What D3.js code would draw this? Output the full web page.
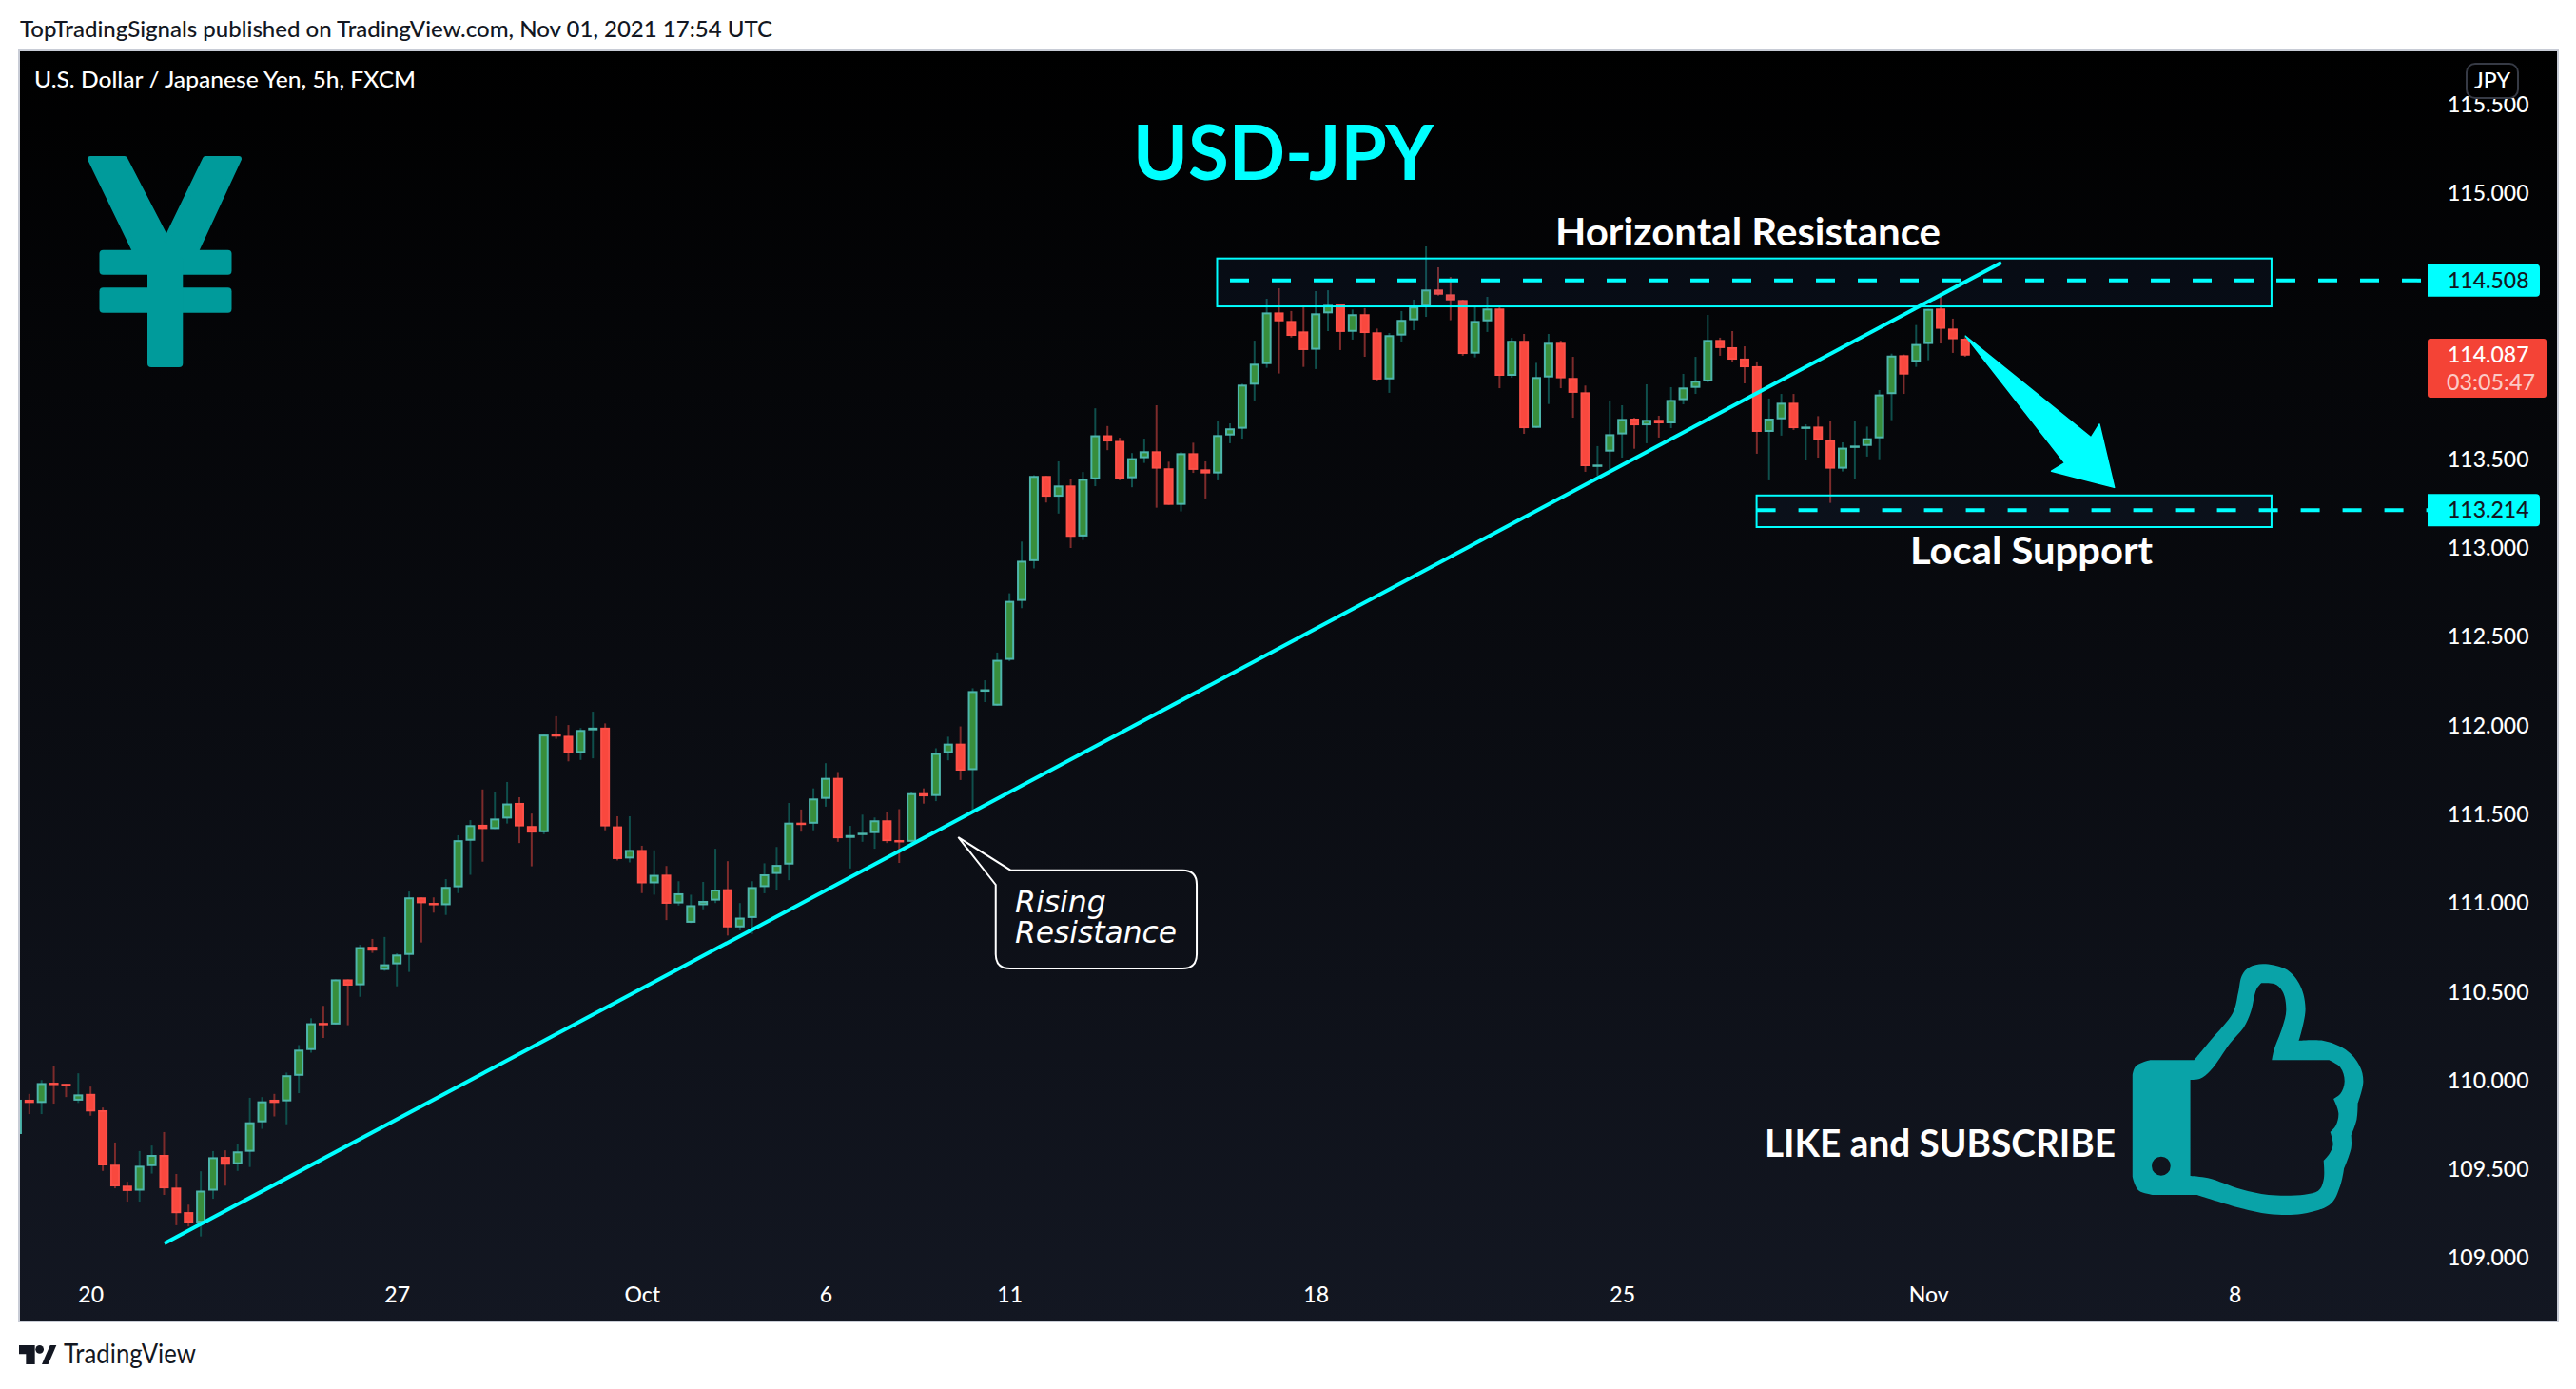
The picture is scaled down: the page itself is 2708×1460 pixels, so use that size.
<!DOCTYPE html>
<html><head><meta charset="utf-8">
<script src="https://cdn.jsdelivr.net/npm/d3@7"></script>
<style>html,body{margin:0;padding:0;background:#fff}svg{display:block}</style>
</head><body><svg id="c" width="2708" height="1460"></svg>
<script>
const opens=[109.700,109.893,109.875,109.989,109.983,109.888,109.926,109.834,109.527,109.409,
109.381,109.519,109.582,109.398,109.260,109.201,109.381,109.571,109.530,109.600,
109.766,109.893,109.884,110.028,110.173,110.326,110.317,110.571,110.538,110.755,
110.624,110.656,110.709,111.033,111.002,110.989,111.090,111.352,111.442,111.418,
111.477,111.565,111.435,111.400,111.952,111.943,111.847,111.974,111.989,111.433,
111.252,111.300,111.112,111.161,110.999,110.890,110.989,111.015,111.079,110.864,
110.917,111.091,111.165,111.218,111.454,111.448,111.588,111.706,111.368,111.384,
111.395,111.467,111.356,111.346,111.620,111.604,111.846,111.899,111.750,112.193,
112.113,112.371,112.703,112.927,113.407,113.290,113.353,113.066,113.388,113.636,
113.604,113.394,113.507,113.546,113.450,113.244,113.535,113.444,113.421,113.635,
113.673,113.921,114.037,114.328,114.280,114.221,114.118,114.323,114.373,114.219,
114.318,114.216,113.951,114.198,114.284,114.361,114.457,114.430,114.398,114.096,
114.278,114.350,113.971,114.168,113.678,113.962,114.157,113.959,113.878,113.466,
113.544,113.641,113.730,113.692,113.723,113.703,113.834,113.903,113.939,114.173,
114.132,114.068,114.025,113.655,113.726,113.819,113.678,113.685,113.610,113.448,
113.567,113.576,113.619,113.868,114.087,114.050,114.150,114.350,114.237,114.180];
const closes=[109.893,109.875,109.987,109.978,109.974,109.923,109.827,109.523,109.405,109.379,
109.521,109.582,109.394,109.254,109.201,109.381,109.569,109.527,109.602,109.766,
109.884,109.875,110.031,110.175,110.324,110.317,110.571,110.536,110.753,110.733,
110.656,110.711,111.033,111.000,110.989,111.092,111.355,111.440,111.418,111.477,
111.562,111.433,111.398,111.950,111.941,111.847,111.976,111.989,111.433,111.249,
111.300,111.112,111.160,110.997,111.056,110.989,111.013,111.077,110.864,110.919,
111.091,111.163,111.216,111.454,111.446,111.590,111.706,111.366,111.384,111.397,
111.467,111.350,111.346,111.620,111.602,111.846,111.899,111.747,112.195,112.205,
112.371,112.703,112.929,113.407,113.290,113.353,113.064,113.390,113.636,113.601,
113.392,113.507,113.546,113.448,113.244,113.535,113.441,113.421,113.637,113.675,
113.921,114.039,114.328,114.278,114.196,114.116,114.323,114.371,114.218,114.318,
114.212,113.950,114.200,114.286,114.361,114.457,114.428,114.396,114.094,114.280,
114.350,113.971,114.168,113.676,113.964,114.157,113.957,113.875,113.462,113.471,
113.642,113.728,113.692,113.723,113.703,113.835,113.905,113.943,114.173,114.127,
114.062,114.019,113.655,113.730,113.819,113.676,113.685,113.609,113.448,113.566,
113.578,113.619,113.866,114.085,113.978,114.150,114.348,114.236,114.177,114.085];
const highs=[109.893,109.926,110.004,110.085,109.983,110.042,109.967,109.849,109.652,109.431,
109.604,109.635,109.711,109.475,109.302,109.490,109.604,109.608,109.645,109.904,
109.908,109.926,110.046,110.201,110.352,110.422,110.571,110.571,110.766,110.799,
110.810,110.718,111.066,111.033,111.033,111.136,111.383,111.468,111.641,111.624,
111.683,111.597,111.505,111.950,112.053,112.004,111.987,112.079,112.013,111.490,
111.490,111.324,111.298,111.210,111.124,111.048,111.120,111.307,111.237,111.001,
111.124,111.225,111.317,111.565,111.528,111.647,111.789,111.739,111.436,111.499,
111.483,111.514,111.530,111.626,111.647,111.873,111.938,111.996,112.211,112.256,
112.412,112.746,113.037,113.411,113.407,113.489,113.392,113.429,113.788,113.688,
113.622,113.536,113.617,113.805,113.487,113.541,113.594,113.489,113.717,113.703,
113.926,114.169,114.405,114.464,114.336,114.366,114.448,114.453,114.373,114.344,
114.352,114.237,114.212,114.336,114.400,114.700,114.582,114.528,114.400,114.362,
114.416,114.362,114.185,114.207,114.044,114.207,114.169,114.078,113.916,113.575,
113.832,113.805,113.735,113.923,113.746,113.907,113.982,114.078,114.314,114.186,
114.223,114.137,114.052,113.843,113.869,113.869,113.698,113.744,113.719,113.596,
113.714,113.685,113.891,114.096,114.091,114.257,114.348,114.439,114.293,114.189];
const lows=[109.700,109.812,109.812,109.871,109.908,109.875,109.803,109.492,109.394,109.319,
109.319,109.477,109.357,109.186,109.179,109.123,109.335,109.409,109.492,109.514,
109.729,109.799,109.755,109.930,110.158,110.241,110.317,110.313,110.473,110.720,
110.619,110.532,110.613,110.779,110.947,110.934,111.057,111.160,111.234,111.418,
111.449,111.339,111.208,111.389,111.926,111.799,111.807,111.816,111.411,111.241,
111.230,111.057,111.048,110.905,110.987,110.888,110.966,111.001,110.818,110.847,
110.827,111.056,111.073,111.130,111.403,111.411,111.544,111.346,111.196,111.346,
111.307,111.339,111.227,111.319,111.561,111.575,111.805,111.694,111.514,112.133,
112.113,112.363,112.662,112.886,113.257,113.195,113.001,113.046,113.349,113.552,
113.382,113.343,113.480,113.228,113.244,113.207,113.424,113.280,113.382,113.591,
113.617,113.832,114.016,113.984,114.187,114.021,114.009,114.223,114.116,114.175,
114.078,113.944,113.875,114.159,114.228,114.303,114.423,114.284,114.084,114.075,
114.218,113.901,113.960,113.644,113.678,113.812,113.901,113.735,113.430,113.407,
113.435,113.510,113.560,113.591,113.623,113.676,113.810,113.869,113.934,114.084,
114.046,113.928,113.532,113.382,113.634,113.666,113.494,113.510,113.255,113.432,
113.387,113.516,113.501,113.721,113.869,114.021,114.059,114.153,114.100,114.078];
const priceTicks=[109,109.5,110,110.5,111,111.5,112,112.5,113,113.5,115,115.5];
const dateBars=[6,31,51,66,81,106,131,156,181];
const dateLabels=["20","27","Oct","6","11","18","25","Nov","8"];
const resistanceLevel=114.508, supportLevel=113.214, lastPrice=114.087;
const trendBars=[12.03,161.96], trendPrices=[109.084,114.609];
const arrowBars=[159.04,169.28,169.96,171.18,166.05,167.13];
const arrowPrices=[114.195,113.623,113.698,113.342,113.434,113.48];

const FONT='Lato,sans-serif';
const CY='#00ffff';
const frame={l:21,r:2688,t:54,b:1388};
const x=d3.scaleLinear().domain([1,159]).range([30.8,2065.8]);
const y=d3.scaleLinear().domain([109,115]).range([1322.6,203]);
const svg=d3.select('#c');
const defs=svg.append('defs');
const g=defs.append('linearGradient').attr('id','bg').attr('x1',0).attr('x2',0).attr('y1',0).attr('y2',1);
g.append('stop').attr('offset',0).attr('stop-color','#000000');
g.append('stop').attr('offset',1).attr('stop-color','#131722');
defs.append('clipPath').attr('id','clip').append('rect')
  .attr('x',frame.l).attr('y',frame.t).attr('width',frame.r-frame.l).attr('height',frame.b-frame.t);
svg.append('rect').attr('x',frame.l-1).attr('y',frame.t-1).attr('width',frame.r-frame.l+2).attr('height',frame.b-frame.t+2)
  .attr('fill','url(#bg)').attr('stroke','#c8ccd6').attr('stroke-width',2);

function txt(s,px,py,size,color,o={}){
  const t=svg.append('text').text(s).attr('x',px).attr('y',py).attr('font-size',size).attr('fill',color)
    .attr('font-family',o.family||FONT).attr('font-weight',o.weight||400);
  if(o.len){t.attr('textLength',o.len).attr('lengthAdjust','spacingAndGlyphs');}
  if(o.style)t.attr('font-style',o.style);
  return t;
}
txt('TopTradingSignals published on TradingView.com, Nov 01, 2021 17:54 UTC',21,39,23,'#131722',{len:791,weight:500});
txt('TradingView',67,1433,29,'#131722',{len:139});
const logo=svg.append('g').attr('transform','translate(0,1385) scale(0.3333)').attr('fill','#131722');
logo.append('path').attr('d','M60,87H110V147H82V115H60Z');
logo.append('circle').attr('cx',125).attr('cy',100).attr('r',13);
logo.append('path').attr('d','M132,147L158,87H178L152,147Z');

// axes
const yAxis=d3.axisRight(y).tickValues(priceTicks).tickSize(0).tickPadding(0).tickFormat(d3.format('.3f'));
const ya=svg.append('g').attr('transform','translate(2573,0)').call(yAxis);
const xAxis=d3.axisBottom(x).tickValues(dateBars).tickSize(0).tickPadding(0).tickFormat(d=>dateLabels[dateBars.indexOf(d)]);
const xa=svg.append('g').attr('transform','translate(0,1353)').call(xAxis);
[ya,xa].forEach(a=>{a.select('.domain').remove();a.selectAll('text').attr('fill','#fff').attr('font-size',23).attr('font-weight',500).attr('font-family',FONT);});

// JPY button
svg.append('rect').attr('x',2593).attr('y',67).attr('width',54).attr('height',36).attr('rx',9)
  .attr('fill','#000').attr('stroke','#363a45').attr('stroke-width',2);
txt('JPY',2620,93,23,'#fff',{weight:500}).attr('text-anchor','middle');

// candles
const bars=opens.map((o,i)=>({i,o,c:closes[i],h:highs[i],l:lows[i],up:closes[i]>=o}));
const cg=svg.append('g').attr('clip-path','url(#clip)');
cg.selectAll('line.w').data(bars).join('line').attr('class','w')
  .attr('x1',d=>x(d.i)).attr('x2',d=>x(d.i)).attr('y1',d=>y(d.h)).attr('y2',d=>y(d.l))
  .attr('stroke',d=>d.up?'#0f4f4c':'#7d2b2b').attr('stroke-width',2);
cg.selectAll('rect.b').data(bars).join('rect').attr('class','b')
  .attr('x',d=>x(d.i)-4).attr('width',8)
  .attr('y',d=>y(Math.max(d.o,d.c))+1)
  .attr('height',d=>Math.max(0.5,y(Math.min(d.o,d.c))-y(Math.max(d.o,d.c))-2))
  .attr('fill',d=>d.up?'#388e3c':'#f9483e')
  .attr('stroke',d=>d.up?'#4db6ac':'#fc5048').attr('stroke-width',2);

// zones
const zones=[{b0:97.95,b1:184.01,p0:114.632,p1:114.362},{b0:141.98,b1:184.01,p0:113.297,p1:113.119}];
svg.selectAll('rect.z').data(zones).join('rect').attr('class','z')
  .attr('x',d=>x(d.b0)).attr('width',d=>x(d.b1)-x(d.b0))
  .attr('y',d=>y(d.p0)).attr('height',d=>y(d.p1)-y(d.p0))
  .attr('fill','rgba(50,100,180,0.09)').attr('stroke',CY).attr('stroke-width',2);
// dashed levels
[[resistanceLevel,99],[supportLevel,141.98]].forEach(([p,b])=>{
  svg.append('line').attr('x1',x(b)).attr('x2',2552).attr('y1',y(p)).attr('y2',y(p))
    .attr('stroke',CY).attr('stroke-width',4).attr('stroke-dasharray','20 24');
});
// trend line
svg.append('path').attr('d',d3.line().x(d=>x(d[0])).y(d=>y(d[1]))(d3.zip(trendBars,trendPrices)))
  .attr('stroke',CY).attr('stroke-width',4).attr('fill','none');
// arrow
svg.append('path').attr('d',d3.line().x(d=>x(d[0])).y(d=>y(d[1]))(d3.zip(arrowBars,arrowPrices))+'Z')
  .attr('fill',CY).attr('stroke',CY).attr('stroke-width',1.5).attr('stroke-linejoin','round');

// price labels
function plabel(p,h,w,fill){
  const t=y(p)-h,b=y(p)+h,rx=2552+w;
  return svg.append('path').attr('d',`M2552,${t}H${rx-4}Q${rx},${t} ${rx},${t+4}V${b-4}Q${rx},${b} ${rx-4},${b}H2552Z`).attr('fill',fill);
}
plabel(resistanceLevel,17,118,CY);
plabel(supportLevel,17,118,CY);
txt(d3.format('.3f')(resistanceLevel),2573,y(resistanceLevel)+8,23,'#131722',{weight:500});
txt(d3.format('.3f')(supportLevel),2573,y(supportLevel)+8,23,'#131722',{weight:500});
svg.append('rect').attr('x',2552).attr('y',356).attr('width',125).attr('height',62).attr('rx',3).attr('fill','#f44336');
txt(d3.format('.3f')(lastPrice),2573,y(lastPrice)+8,23,'#fff',{weight:500});
txt('03:05:47',2572,410,23,'rgba(255,255,255,0.72)',{len:93,weight:500});

// text
txt('U.S. Dollar / Japanese Yen, 5h, FXCM',36,92,23,'#fff',{len:401,weight:500});
txt('USD-JPY',1191,189,80,CY,{weight:700,len:316});
txt('Horizontal Resistance',1635,257.7,40,'#fff',{weight:700,len:405});
txt('Local Support',2008,592.7,40,'#fff',{weight:700,len:255});
txt('LIKE and SUBSCRIBE',1855,1215.7,40,'#fff',{weight:700,len:369});

// callout
const tipX=x(76.82), tipY=y(111.372);
const L=39.4,T=34.7,R=250.7,B=138,r=15;
svg.append('path').attr('transform',`translate(${tipX},${tipY})`)
  .attr('d',`M0,0L55,${T}H${R-r}Q${R},${T} ${R},${T+r}V${B-r}Q${R},${B} ${R-r},${B}H${L+r}Q${L},${B} ${L},${B-r}V50Z`)
  .attr('fill','none').attr('stroke','#fff').attr('stroke-width',2);
const DJ='"DejaVu Sans",sans-serif';
txt('Rising',1067,958.5,31.5,'#fff',{family:DJ,style:'italic'});
txt('Resistance',1067,990.5,31.5,'#fff',{family:DJ,style:'italic',len:170});

// yen icon
const yen=svg.append('g').attr('fill','#009b9b');
yen.append('path').attr('d','M95,167L131,167L175,252L216,167L251,167L205,266L143,266Z')
  .attr('stroke','#009b9b').attr('stroke-width',6).attr('stroke-linejoin','round');
yen.append('rect').attr('x',104.5).attr('y',262.7).attr('width',139).attr('height',26).attr('rx',4);
yen.append('rect').attr('x',104.5).attr('y',302.3).attr('width',139).attr('height',26.4).attr('rx',4);
yen.append('rect').attr('x',155).attr('y',270).attr('width',37.3).attr('height',116).attr('rx',4);

// thumb icon
const cr=d3.line().curve(d3.curveCatmullRom.alpha(0.5));
function segs(list){return list.map((s,i)=>{const d=cr(s);return i?d.replace(/^M[^CL]*/,'L'+s[0].join(',')):d;}).join('')+'Z';}
const outer=[[[875,403],[905,340],[945,255],[955,190],[962,135],[975,110],[1000,100],[1040,115],[1065,160],[1077,240],[1065,342]],
[[1065,342],[1110,342],[1150,370],[1175,420],[1182,470],[1172,540]],
[[1172,540],[1170,590],[1160,640]],
[[1160,640],[1160,680],[1147,745]],
[[1147,745],[1140,800],[1120,860],[1070,888],[1010,888],[960,870],[880,828]],
[[880,828],[800,828]],
[[800,828],[775,815],[763,770]],
[[763,770],[763,450]],
[[763,450],[770,420],[795,403]],
[[795,403],[875,403]]];
const inner=[[[868,465],[885,462],[905,435],[940,350],[965,300],[978,250],[988,180],[997,160]],
[[997,160],[1020,162],[1035,185],[1042,245],[1035,300],[1020,370],[1016,403]],
[[1016,403],[1120,403]],
[[1120,403],[1140,425],[1148,470],[1140,510],[1128,525]],
[[1128,525],[1137,570],[1132,610],[1122,630]],
[[1122,630],[1127,670],[1120,700],[1110,720]],
[[1110,720],[1110,780],[1100,815],[1075,827],[1010,828],[960,810],[900,775],[868,768]],
[[868,768],[868,465]]];
const th=svg.append('g').attr('transform','translate(1800,980) scale(0.579,0.3333)');
th.append('path').attr('d',segs(outer)+segs(inner)
  +'M798,737a17,30 0 1,0 34,0a17,30 0 1,0 -34,0Z').attr('fill','#09a3a8').attr('fill-rule','evenodd');
</script></body></html>
